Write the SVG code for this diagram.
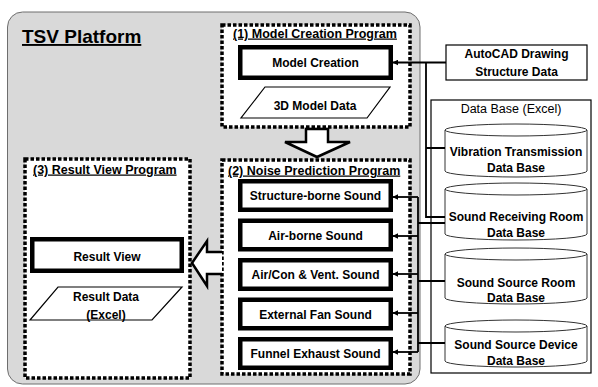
<svg xmlns="http://www.w3.org/2000/svg" width="598" height="387" viewBox="0 0 598 387">
<defs>
<style>
text{font-family:"Liberation Sans",Arial,sans-serif;fill:#000}
.lbl{font-size:12px;font-weight:bold;text-anchor:middle}
.ttl{font-size:12.5px;font-weight:bold;text-decoration:underline}
.prog{fill:#fff;stroke:#000;stroke-width:3.5;stroke-dasharray:3.5 2}
.node{fill:#fff;stroke:#000;stroke-width:4.5}
.thin{fill:#fff;stroke:#000;stroke-width:1.2}
.cyl{fill:#fff;stroke:#333;stroke-width:1}
.conn{fill:none;stroke:#000;stroke-width:1.8}
.hollow{fill:#fff;stroke:#000;stroke-width:2.5;stroke-linejoin:miter}
</style>
<marker id="ah" viewBox="0 0 10 10" refX="9" refY="5" markerWidth="6" markerHeight="6" markerUnits="userSpaceOnUse" orient="auto">
<path d="M0,0 L10,5 L0,10 z" fill="#000"/>
</marker>
</defs>
<rect width="598" height="387" fill="#fff"/>
<g id="platform">
<rect x="7.5" y="12" width="412.5" height="372" rx="15" fill="#d9d9d9" stroke="#6e6e6e" stroke-width="1"/>
<text x="22" y="43" style="font-size:19px;font-weight:bold;text-decoration:underline">TSV Platform</text>
</g>
<g id="prog1">
<rect class="prog" x="222" y="25" width="188" height="102"/>
<text class="ttl" x="233" y="37.5">(1) Model Creation Program</text>
</g>
<g id="prog2">
<rect class="prog" x="222" y="160" width="188" height="214"/>
<text class="ttl" x="228" y="174.5">(2) Noise Prediction Program</text>
</g>
<g id="prog3">
<rect class="prog" x="25" y="159" width="165" height="219"/>
<text class="ttl" x="33" y="173.5">(3) Result View Program</text>
</g>
<g id="model-creation">
<rect class="node" x="240.25" y="47.25" width="150.5" height="30.5"/>
<text class="lbl" x="315.5" y="67">Model Creation</text>
</g>
<g id="model-data">
<polygon class="thin" points="265,87 390,87 367,118 241,118" stroke-width="0.8"/>
<text class="lbl" x="315" y="110">3D Model Data</text>
</g>
<g id="structure-borne">
<rect class="node" x="240.25" y="181.25" width="150.5" height="28.5"/>
<text class="lbl" x="315.5" y="200">Structure-borne Sound</text>
</g>
<g id="air-borne">
<rect class="node" x="240.25" y="220.75" width="150.5" height="28.5"/>
<text class="lbl" x="315.5" y="239.5">Air-borne Sound</text>
</g>
<g id="aircon">
<rect class="node" x="240.25" y="260.25" width="150.5" height="28.5"/>
<text class="lbl" x="315.5" y="279">Air/Con &amp; Vent. Sound</text>
</g>
<g id="external-fan">
<rect class="node" x="240.25" y="299.75" width="150.5" height="28.5"/>
<text class="lbl" x="315.5" y="318.5">External Fan Sound</text>
</g>
<g id="funnel">
<rect class="node" x="240.25" y="339.25" width="150.5" height="28.5"/>
<text class="lbl" x="315.5" y="358">Funnel Exhaust Sound</text>
</g>
<g id="result-view">
<rect class="node" x="32.25" y="239.25" width="149.5" height="31.5"/>
<text class="lbl" x="107" y="261">Result View</text>
</g>
<g id="result-data">
<polygon class="thin" points="58,287 182,287 152,320 30,320" stroke-width="0.8"/>
<text class="lbl" x="106" y="301">Result Data</text>
<text class="lbl" x="106" y="318.5">(Excel)</text>
</g>
<g id="autocad">
<rect class="thin" x="446" y="45" width="141" height="35"/>
<text class="lbl" x="516.5" y="58">AutoCAD Drawing</text>
<text class="lbl" x="516.5" y="75.5">Structure Data</text>
</g>
<g id="database">
<rect class="thin" x="431" y="100" width="160" height="273" stroke-width="1"/>
<text class="lbl" x="511" y="112.5" style="font-weight:normal;font-size:12.5px">Data Base (Excel)</text>
</g>
<g id="vibration-db">
<path class="cyl" d="M445,130 A71,6 0 0 1 587,130 L587,171 A71,6 0 0 1 445,171 Z M445,130 A71,6 0 0 0 587,130"/>
<text class="lbl" x="516" y="156">Vibration Transmission</text>
<text class="lbl" x="516" y="172">Data Base</text>
</g>
<g id="receiving-db">
<path class="cyl" d="M445,189 A71,6 0 0 1 587,189 L587,234 A71,6 0 0 1 445,234 Z M445,189 A71,6 0 0 0 587,189"/>
<text class="lbl" x="516" y="221">Sound Receiving Room</text>
<text class="lbl" x="516" y="236.5">Data Base</text>
</g>
<g id="source-room-db">
<path class="cyl" d="M445,254 A71,6 0 0 1 587,254 L587,298 A71,6 0 0 1 445,298 Z M445,254 A71,6 0 0 0 587,254"/>
<text class="lbl" x="516" y="287">Sound Source Room</text>
<text class="lbl" x="516" y="302">Data Base</text>
</g>
<g id="source-device-db">
<path class="cyl" d="M445,326 A71,6 0 0 1 587,326 L587,361 A71,6 0 0 1 445,361 Z M445,326 A71,6 0 0 0 587,326"/>
<text class="lbl" x="516" y="348.5">Sound Source Device</text>
<text class="lbl" x="516" y="364.5">Data Base</text>
</g>
<g id="connectors">
<path class="hollow" d="M306,129 L328,129 L328,142 L350,142 L317,157 L285,142 L306,142 Z"/>
<path class="hollow" d="M222,252 L207,252 L207,241 L192,263 L207,286 L207,274 L222,274"/>
<path class="conn" d="M446,62.5 L393,62.5" marker-end="url(#ah)"/>
<path class="conn" d="M426,62.5 L426,217 L445,217 M426,148 L445,148"/>
<path class="conn" d="M418,197 L418,352 M418,223 L445,223 M418,281 L445,281 M418,343 L445,343"/>
<path class="conn" d="M418,197 L393,197" marker-end="url(#ah)"/>
<path class="conn" d="M418,236 L393,236" marker-end="url(#ah)"/>
<path class="conn" d="M418,274 L393,274" marker-end="url(#ah)"/>
<path class="conn" d="M418,313 L393,313" marker-end="url(#ah)"/>
<path class="conn" d="M418,352 L393,352" marker-end="url(#ah)"/>
</g>
</svg>
